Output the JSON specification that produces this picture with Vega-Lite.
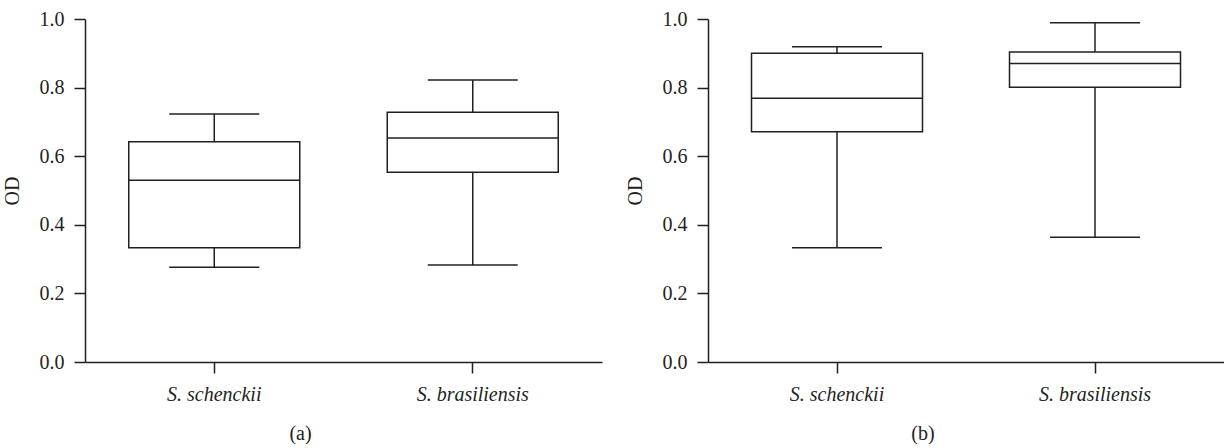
{
  "$schema": "https://vega.github.io/schema/vega-lite/v6.json",
  "padding": {"left": 2, "top": 9, "right": 0, "bottom": 0},
  "background": "white",
  "config": {
    "view": {"stroke": null},
    "font": "Liberation Serif",
    "tick": {"opacity": 1},
    "axis": {
      "labelFont": "Liberation Serif",
      "titleFont": "Liberation Serif",
      "labelFontSize": 20,
      "titleFontSize": 20,
      "titleFontWeight": "normal",
      "labelColor": "#231f20",
      "titleColor": "#231f20",
      "domainColor": "#231f20",
      "tickColor": "#231f20",
      "domainWidth": 1.5,
      "tickWidth": 1.5,
      "tickSize": 11,
      "grid": false
    },
    "concat": {"spacing": 23}
  },
  "datasets": {
    "boxes": [
      {"panel": "a", "species": "S. schenckii", "min": 0.276, "q1": 0.333, "median": 0.530, "q3": 0.642, "max": 0.723},
      {"panel": "a", "species": "S. brasiliensis", "min": 0.283, "q1": 0.553, "median": 0.653, "q3": 0.728, "max": 0.822},
      {"panel": "b", "species": "S. schenckii", "min": 0.333, "q1": 0.671, "median": 0.769, "q3": 0.900, "max": 0.919},
      {"panel": "b", "species": "S. brasiliensis", "min": 0.364, "q1": 0.801, "median": 0.870, "q3": 0.904, "max": 0.989}
    ]
  },
  "hconcat": [
    {
      "width": 517,
      "height": 343,
      "title": {"text": "(a)", "orient": "bottom", "anchor": "middle", "font": "Liberation Serif", "fontSize": 20, "fontWeight": "normal", "color": "#231f20", "offset": 20, "dx": -43},
      "data": {"name": "boxes"},
      "transform": [{"filter": "datum.panel === 'a'"}],
      "encoding": {
        "x": {"field": "species", "type": "nominal", "sort": ["S. schenckii", "S. brasiliensis"],
              "scale": {"paddingInner": 0, "paddingOuter": 0},
              "axis": {"title": null, "labelAngle": 0, "labelFontStyle": "italic", "labelPadding": 11}}
      },
      "layer": [
        {"mark": {"type": "rule", "color": "#231f20", "strokeWidth": 1.5},
         "encoding": {"y": {"field": "min", "type": "quantitative", "scale": {"domain": [0, 1]},
                            "axis": {"title": "OD", "values": [0, 0.2, 0.4, 0.6, 0.8, 1.0], "format": ".1f", "labelPadding": 10, "titleX": -63}},
                      "y2": {"field": "max"}}},
        {"mark": {"type": "bar", "fill": "white", "stroke": "#231f20", "strokeWidth": 1.5, "size": 171},
         "encoding": {"y": {"field": "q1", "type": "quantitative"}, "y2": {"field": "q3"}}},
        {"mark": {"type": "tick", "color": "#231f20", "size": 171, "thickness": 1.5, "opacity": 1},
         "encoding": {"y": {"field": "median", "type": "quantitative"}}},
        {"mark": {"type": "tick", "color": "#231f20", "size": 90, "thickness": 1.5, "opacity": 1},
         "encoding": {"y": {"field": "min", "type": "quantitative"}}},
        {"mark": {"type": "tick", "color": "#231f20", "size": 90, "thickness": 1.5, "opacity": 1},
         "encoding": {"y": {"field": "max", "type": "quantitative"}}}
      ]
    },
    {
      "width": 516,
      "height": 343,
      "title": {"text": "(b)", "orient": "bottom", "anchor": "middle", "font": "Liberation Serif", "fontSize": 20, "fontWeight": "normal", "color": "#231f20", "offset": 20, "dx": -43},
      "data": {"name": "boxes"},
      "transform": [{"filter": "datum.panel === 'b'"}],
      "encoding": {
        "x": {"field": "species", "type": "nominal", "sort": ["S. schenckii", "S. brasiliensis"],
              "scale": {"paddingInner": 0, "paddingOuter": 0},
              "axis": {"title": null, "labelAngle": 0, "labelFontStyle": "italic", "labelPadding": 11}}
      },
      "layer": [
        {"mark": {"type": "rule", "color": "#231f20", "strokeWidth": 1.5},
         "encoding": {"y": {"field": "min", "type": "quantitative", "scale": {"domain": [0, 1]},
                            "axis": {"title": "OD", "values": [0, 0.2, 0.4, 0.6, 0.8, 1.0], "format": ".1f", "labelPadding": 10, "titleX": -63}},
                      "y2": {"field": "max"}}},
        {"mark": {"type": "bar", "fill": "white", "stroke": "#231f20", "strokeWidth": 1.5, "size": 171},
         "encoding": {"y": {"field": "q1", "type": "quantitative"}, "y2": {"field": "q3"}}},
        {"mark": {"type": "tick", "color": "#231f20", "size": 171, "thickness": 1.5, "opacity": 1},
         "encoding": {"y": {"field": "median", "type": "quantitative"}}},
        {"mark": {"type": "tick", "color": "#231f20", "size": 90, "thickness": 1.5, "opacity": 1},
         "encoding": {"y": {"field": "min", "type": "quantitative"}}},
        {"mark": {"type": "tick", "color": "#231f20", "size": 90, "thickness": 1.5, "opacity": 1},
         "encoding": {"y": {"field": "max", "type": "quantitative"}}}
      ]
    }
  ]
}
